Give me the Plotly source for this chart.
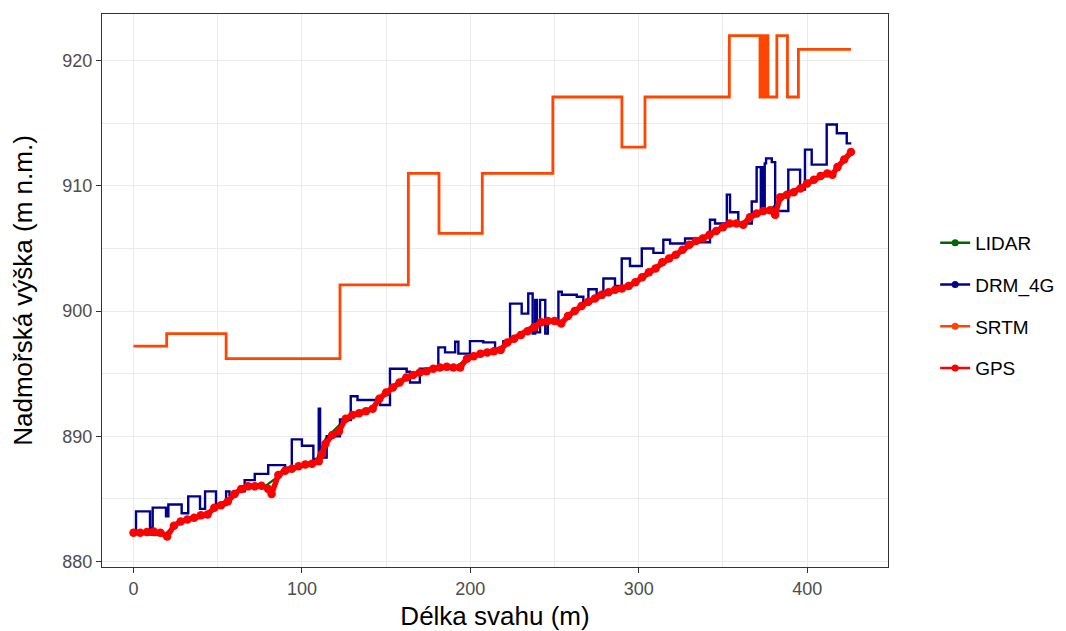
import plotly.graph_objects as go

# ---------------- data ----------------
srtm_x = [0, 19.7, 55, 122.6, 163.2, 181.4, 207.1, 249, 290, 303.7, 353.8, 372,
          373, 374.5, 375.5, 376.7, 382, 388.3, 394.8, 426]
srtm_y = [897.2, 898.2, 896.2, 902.1, 911.0, 906.2, 911.0, 917.1, 913.1, 917.1, 922.0, 917.1,
          922.0, 917.1, 922.0, 917.1, 922.0, 917.1, 920.9, 920.9]

drm_x = [0, 1.5, 9.8, 11.4, 19.3, 20.7, 28.6, 32.5, 39.5, 42.5, 49, 55, 57, 60, 66, 72, 80, 90, 94,
         100, 106.8, 110, 110.8, 114.7, 122.6, 126.6, 129, 133, 146.4, 152.3, 162.2, 164.2, 170, 181,
         185, 191, 192.9, 199.8, 207.7, 214.7, 219.6, 223.6, 230.5, 234.4, 237, 238.5, 239.5, 241.4,
         244.5, 246, 252.3, 254.3, 263.2, 267.1, 270.1, 275, 279, 285.9, 289.9, 294.8, 301.8, 308.7,
         314.6, 318.6, 327.5, 334.4, 342.3, 345.3, 351.2, 352.3, 354.2, 359.1, 367.1, 370, 372.5,
         373.3, 374.0, 374.8, 375.6, 379, 381, 388.8, 395.8, 398.7, 402.7, 411.6, 417.6, 423.5, 425.5]
drm_y = [882.3, 884.0, 882.7, 884.3, 883.6, 884.55, 883.85, 885.2, 884.2, 885.6, 884.5, 885.6, 885.3,
         885.6, 886.5, 887.0, 887.7, 887.5, 889.75, 889.25, 888.2, 892.2, 888.3, 890.0, 891.35, 891.3,
         893.2, 892.9, 892.5, 895.4, 895.15, 894.3, 895.4, 897.1, 896.7, 897.55, 896.6, 897.6, 897.5,
         897.0, 897.6, 900.6, 899.8, 901.4, 898.2, 900.9, 898.3, 900.9, 898.2, 899.1, 901.55, 901.3,
         901.15, 900.5, 901.75, 901.1, 902.6, 902.0, 904.2, 903.6, 905.0, 904.65, 905.7, 905.4, 905.8,
         905.5, 907.3, 907.0, 906.8, 909.3, 907.9, 907.0, 908.75, 911.5, 908.0, 911.5, 908.0, 911.8,
         912.2, 911.9, 908.0, 911.3, 909.7, 912.9, 911.7, 914.9, 914.2, 913.4, 913.3]

lidar_x = [0, 6, 12, 18, 24, 30, 36, 42, 48, 54, 60, 66, 72, 78, 84, 90, 96, 102, 108, 114, 120, 126,
           132, 138, 144, 150, 156, 162, 168, 174, 180, 186, 192, 198, 204, 210, 216, 222, 228, 234,
           240, 246, 252, 258, 264, 270, 276, 282, 288, 294, 300, 306, 312, 318, 324, 330, 336, 342,
           348, 354, 360, 366, 372, 378, 384, 390, 396, 402, 408, 414, 420, 426]
lidar_y = [882.2, 882.2, 882.1, 882.1, 882.8, 883.3, 883.5, 883.7, 884.3, 884.7, 885.4, 885.95, 886.0,
           886.0, 886.6, 887.2, 887.5, 887.7, 887.9, 889.8, 890.6, 891.4, 891.8, 892.0, 892.5, 893.5,
           894.1, 894.6, 895.0, 895.2, 895.4, 895.5, 895.6, 896.2, 896.5, 896.7, 896.9, 897.5, 897.95,
           898.4, 898.9, 899.2, 899.1, 899.4, 900.2, 900.75, 901.15, 901.5, 901.75, 902.0, 902.45,
           903.0, 903.5, 904.2, 904.7, 905.3, 905.7, 906.1, 906.55, 907.0, 906.95, 907.5, 907.9,
           908.1, 908.8, 909.4, 909.8, 910.35, 910.8, 910.95, 911.7, 912.5]

gps_x = [0, 4, 8, 12, 16, 20, 24, 28, 32, 36, 40, 44, 48, 52, 56, 60, 64, 68, 72, 76, 80, 82, 86, 90,
         94, 98, 102, 106, 110, 112, 114, 118, 122, 126, 130, 134, 138, 142, 146, 150, 154, 158, 162,
         166, 170, 174, 178, 182, 186, 190, 194, 198, 202, 206, 210, 214, 218, 222, 226, 230, 234,
         238, 242, 246, 250, 254, 258, 262, 266, 270, 274, 278, 282, 286, 290, 294, 298, 302, 306,
         310, 314, 318, 322, 326, 330, 334, 338, 342, 346, 350, 354, 358, 362, 366, 370, 374, 378,
         381, 384, 388, 392, 396, 400, 404, 408, 412, 415, 418, 422, 426]
gps_y = [882.3, 882.3, 882.35, 882.4, 882.3, 882.0, 882.85, 883.2, 883.35, 883.5, 883.7, 883.75,
         884.3, 884.5, 884.8, 885.4, 885.8, 886.0, 886.0, 886.05, 885.8, 885.4, 886.9, 887.25, 887.4,
         887.6, 887.75, 887.8, 888.0, 888.6, 889.4, 890.1, 890.4, 891.4, 891.7, 891.85, 892.0, 892.2,
         893.0, 893.5, 893.9, 894.3, 894.7, 894.9, 895.1, 895.2, 895.4, 895.5, 895.55, 895.5, 895.5,
         896.2, 896.4, 896.6, 896.7, 896.8, 896.9, 897.5, 897.8, 898.1, 898.4, 898.7, 899.1, 899.2,
         899.2, 899.0, 899.6, 900.0, 900.4, 900.75, 901.0, 901.3, 901.5, 901.7, 901.8, 902.0, 902.3,
         902.7, 903.1, 903.4, 903.9, 904.2, 904.5, 904.9, 905.3, 905.6, 905.8, 906.1, 906.4, 906.7,
         907.0, 907.0, 906.9, 907.5, 907.8, 908.0, 908.05, 907.7, 909.1, 909.3, 909.5, 909.8, 910.2,
         910.5, 910.8, 911.0, 910.9, 911.5, 912.1, 912.7]

series_names = ["LIDAR", "DRM_4G", "SRTM", "GPS"]
series_colors = ["#006400", "#00008B", "#FF4500", "#FF0000"]

x_ticks = [0, 100, 200, 300, 400]
y_ticks = [880, 890, 900, 910, 920]

FONT = "Liberation Sans, Arial, sans-serif"

fig = go.Figure()

# actual drawn series (legend handled by separate entries)
fig.add_trace(go.Scatter(x=lidar_x, y=lidar_y, mode="lines", line=dict(color=series_colors[0], width=2.2),
                         showlegend=False, hoverinfo="skip"))
fig.add_trace(go.Scatter(x=drm_x, y=drm_y, mode="lines", line=dict(color=series_colors[1], width=2.4, shape="hv"),
                         showlegend=False, hoverinfo="skip"))
fig.add_trace(go.Scatter(x=srtm_x, y=srtm_y, mode="lines", line=dict(color=series_colors[2], width=2.8, shape="hv"),
                         showlegend=False, hoverinfo="skip"))
fig.add_trace(go.Scatter(x=gps_x, y=gps_y, mode="lines+markers", line=dict(color=series_colors[3], width=5.5),
                         marker=dict(color=series_colors[3], size=8.5), showlegend=False, hoverinfo="skip"))

# legend entries
for i, (nm, col) in enumerate(zip(series_names, series_colors)):
    fig.add_trace(go.Scatter(x=[None], y=[None], mode="lines+markers", name=nm, legendgroup=nm,
                             line=dict(color=col, width=2.5), marker=dict(color=col, size=7)))

axis_common = dict(
    showline=True, mirror=True, linecolor="#333333", linewidth=1.3,
    showgrid=True, gridcolor="#EBEBEB", gridwidth=1.4,
    zeroline=False, ticks="outside", ticklen=5, tickcolor="#333333", tickwidth=1.2,
    tickfont=dict(family=FONT, size=18, color="#4D4D4D"),
)

fig.update_xaxes(range=[-18.7, 448], tickvals=x_ticks, ticktext=[str(v) for v in x_ticks],
                 minor=dict(tickvals=[50, 150, 250, 350], showgrid=True, gridcolor="#EBEBEB", gridwidth=1.1, ticks=""),
                 title=dict(text="Délka svahu (m)", font=dict(family=FONT, size=26, color="black"), standoff=10),
                 **axis_common)
fig.update_yaxes(range=[879.56, 923.73], tickvals=y_ticks, ticktext=[str(v) for v in y_ticks],
                 minor=dict(tickvals=[885, 895, 905, 915], showgrid=True, gridcolor="#EBEBEB", gridwidth=1.1, ticks=""),
                 title=dict(text="Nadmořská výška (m n.m.)", font=dict(family=FONT, size=26, color="black"), standoff=22),
                 **axis_common)

fig.update_layout(
    width=1066, height=631,
    margin=dict(l=102, r=178, t=14, b=64, autoexpand=False),
    paper_bgcolor="white", plot_bgcolor="white",
    legend=dict(x=1.06, y=0.473, xanchor="left", yanchor="middle", tracegroupgap=14,
                font=dict(family=FONT, size=19, color="black"), bgcolor="rgba(0,0,0,0)"),
    showlegend=True,
)

fig.write_html("out.html")
